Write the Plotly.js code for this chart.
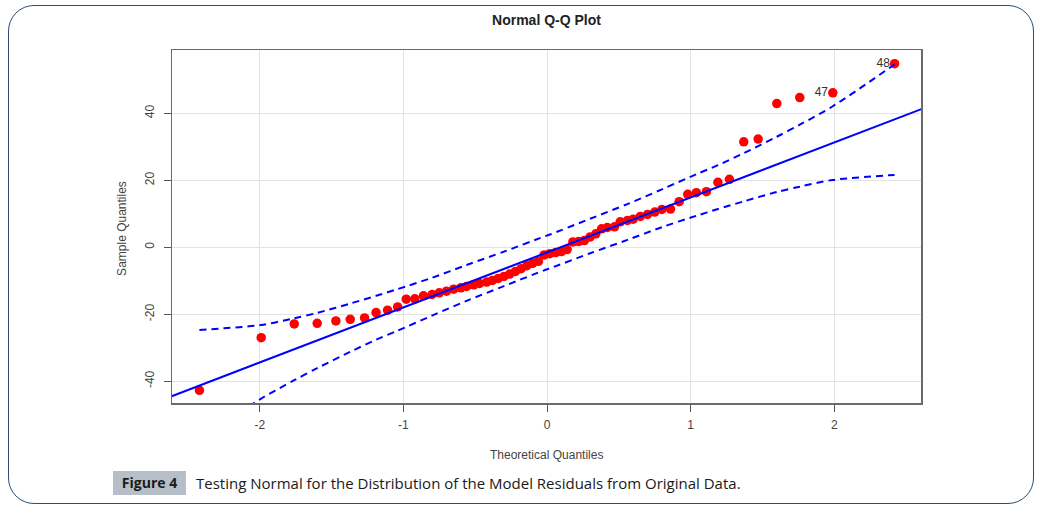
<!DOCTYPE html>
<html>
<head>
<meta charset="utf-8">
<script src="https://cdn.plot.ly/plotly-3.0.1.min.js"></script>
<style>
  html, body { margin: 0; padding: 0; background: #ffffff; }
  #wrap { position: relative; width: 1049px; height: 514px; overflow: hidden; }
  #frame { position: absolute; left: 8px; top: 5px; width: 1026px; height: 499px;
           border: 1.5px solid #2e4d6f; border-radius: 26px; box-sizing: border-box; }
  #chart { position: absolute; left: 0; top: 0; width: 1049px; height: 514px; }
  #figbox { position: absolute; left: 113px; top: 471px; width: 73px; height: 24px;
            background: #b6bec8; font-family: "Open Sans", "Liberation Sans", sans-serif;
            font-weight: bold; font-size: 14px; color: #1a1a1a; line-height: 24px; text-align: center; }
  #figtext { position: absolute; left: 196px; top: 471px; height: 24px; line-height: 24px;
             font-family: "Open Sans", "Liberation Sans", sans-serif; font-size: 15px; color: #1a1a1a; }
</style>
</head>
<body>
<div id="wrap">
  <div id="frame"></div>
  <div id="chart"></div>
  <div id="figbox">Figure 4</div>
  <div id="figtext">Testing Normal for the Distribution of the Model Residuals from Original Data.</div>
</div>
<script>
// Theoretical quantiles (x) of the 64 points
var theoQ = [-2.42, -1.99, -1.76, -1.60, -1.47, -1.37, -1.27, -1.19, -1.11, -1.04,
             -0.98, -0.92, -0.86, -0.80, -0.75, -0.70, -0.65, -0.60, -0.56, -0.51,
             -0.47, -0.42, -0.38, -0.34, -0.30, -0.26, -0.22, -0.18, -0.14, -0.10,
             -0.06, -0.02, 0.02, 0.06, 0.10, 0.14, 0.18, 0.22, 0.26, 0.30,
             0.34, 0.38, 0.42, 0.47, 0.51, 0.56, 0.60, 0.65, 0.70, 0.75,
             0.80, 0.86, 0.92, 0.98, 1.04, 1.11, 1.19, 1.27, 1.37, 1.47,
             1.60, 1.76, 1.99, 2.42];
// Sample quantiles (sorted residuals)
var sampleQ = [-42.7, -27.0, -22.9, -22.7, -22.0, -21.5, -21.1, -19.5, -18.8, -17.8,
               -15.5, -15.4, -14.5, -14.1, -13.6, -13.1, -12.5, -12.1, -11.7, -11.2,
               -10.8, -10.4, -9.9, -9.3, -8.7, -8.0, -7.2, -6.4, -5.5, -4.8,
               -4.2, -2.3, -1.9, -1.6, -1.3, -0.7, 1.6, 1.7, 2.0, 3.1,
               4.0, 5.5, 5.9, 6.1, 7.6, 8.0, 8.4, 9.2, 9.8, 10.5,
               11.3, 11.4, 13.6, 15.8, 16.3, 16.6, 19.4, 20.3, 31.5, 32.3,
               42.9, 44.7, 46.1, 54.8];
// Labelled points
var labelX = [1.99, 2.42];
var labelY = [46.1, 54.8];
var labelText = ["47", "48"];
// Reference line end points
var refX = [-2.7, 2.7];
var refY = [-45.9, 42.8];
// Confidence envelope (dashed)
var envX = [-2.42, -1.99, -1.76, -1.60, -1.37, -1.19, -1.04, -0.80, -0.56, -0.30, -0.02,
            0.02, 0.30, 0.56, 0.80, 1.04, 1.19, 1.37, 1.60, 1.76, 1.99, 2.42];
var envUpper = [-24.7, -23.2, -21.2, -19.6, -16.8, -14.5, -12.5, -9.1, -5.3, -1.3, 3.2,
                3.8, 8.5, 12.9, 17.3, 21.8, 24.5, 28.1, 33.0, 36.6, 42.1, 54.6];
var envLower = [-57.7, -45.2, -39.7, -36.1, -31.2, -27.6, -24.9, -20.4, -16.0, -11.6, -6.9,
                -6.3, -1.8, 2.2, 6.0, 9.4, 11.4, 13.7, 16.5, 18.1, 20.1, 21.6];
// Tick values
var xTicks = [-2, -1, 0, 1, 2];
var yTicks = [-40, -20, 0, 20, 40];

var BLUE = '#0000ff';
var font = "Liberation Sans, Arial, sans-serif";

var traces = [
  { x: theoQ, y: sampleQ, mode: 'markers', type: 'scatter',
    marker: { color: '#ff0000', size: 9.5 }, hoverinfo: 'x+y' },
  { x: refX, y: refY, mode: 'lines', type: 'scatter',
    line: { color: BLUE, width: 2 } },
  { x: envX, y: envUpper, mode: 'lines', type: 'scatter',
    line: { color: BLUE, width: 2, dash: '7px,5px', shape: 'spline', smoothing: 0.8 } },
  { x: envX, y: envLower, mode: 'lines', type: 'scatter',
    line: { color: BLUE, width: 2, dash: '7px,5px', shape: 'spline', smoothing: 0.8 } },
  { x: labelX, y: labelY, mode: 'markers+text', type: 'scatter', text: labelText,
    marker: { size: 6, opacity: 0 },
    textposition: 'middle left', textfont: { family: font, size: 12, color: '#333333' } }
];

var axisCommon = {
  showgrid: true, gridcolor: '#e3e3e3', gridwidth: 1,
  zeroline: false, showline: true, mirror: true, linecolor: '#6a6a6a', linewidth: 1.5,
  ticks: 'outside', ticklen: 7, tickcolor: '#555555', tickwidth: 1,
  tickfont: { family: font, size: 12, color: '#444444' }
};

var layout = {
  width: 1049, height: 514,
  margin: { l: 172, r: 128, t: 50, b: 111, pad: 0 },
  paper_bgcolor: 'rgba(0,0,0,0)', plot_bgcolor: '#ffffff',
  showlegend: false,
  title: { text: '<b>Normal Q-Q Plot</b>', x: 0.5, xref: 'paper', xanchor: 'center',
           y: 1 - 20 / 514, yref: 'container', yanchor: 'middle',
           font: { family: font, size: 14, color: '#222222' } },
  xaxis: Object.assign({}, axisCommon, {
    range: [-2.611, 2.604], tickvals: xTicks, ticktext: xTicks.map(String), ticklabelstandoff: 3
  }),
  yaxis: Object.assign({}, axisCommon, {
    range: [-46.5, 58.9], tickvals: yTicks, ticktext: yTicks.map(String), tickangle: -90,
    ticklabelstandoff: 5
  }),
  annotations: [
    { text: 'Theoretical Quantiles', xref: 'paper', yref: 'paper', x: 0.5, y: -0.147,
      xanchor: 'center', yanchor: 'middle', showarrow: false,
      font: { family: font, size: 12, color: '#444444' } },
    { text: 'Sample Quantiles', xref: 'paper', yref: 'paper', x: -0.0668, y: 0.496,
      xanchor: 'center', yanchor: 'middle', textangle: -90, showarrow: false,
      font: { family: font, size: 12, color: '#444444' } }
  ]
};

Plotly.newPlot('chart', traces, layout, { displayModeBar: false, staticPlot: true });
</script>
</body>
</html>
